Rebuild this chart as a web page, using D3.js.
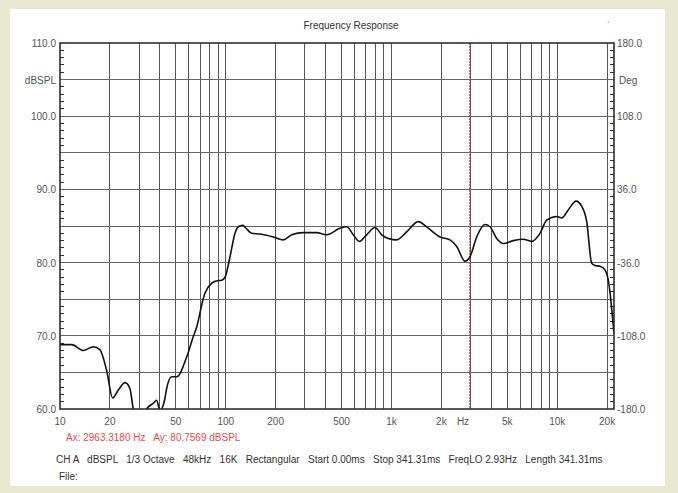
<!DOCTYPE html>
<html>
<head>
<meta charset="utf-8">
<script src="https://cdn.jsdelivr.net/npm/d3@7"></script>
<style>
body { margin: 0; background: #e8e8d0; }
svg text { font-family: "Liberation Sans", Arial, sans-serif; }
</style>
</head>
<body>
<script>
// data
var freqs = [10, 11.8, 13.8, 15.9, 17.4, 19.1, 20.8, 22.5, 24.7, 26.4, 27.7, 29.5, 31.5, 33.3, 36.6, 38.3, 40.1, 43.0, 44.0, 47.2, 50.6, 58.1, 63.7, 66.8, 73.2, 74.9, 82.3, 88.2, 94.5, 99.0, 106.1, 113.7, 119.0, 126.6, 133.8, 143.4, 160.9, 193.6, 222.5, 250.0, 293.8, 353.8, 406.4, 488.9, 536.8, 588.2, 639.2, 708.6, 795.3, 872.9, 956.6, 1075, 1235, 1451, 1667, 1962, 2254, 2474, 2776, 2975, 3266, 3664, 3930, 4313, 4726, 5430, 6240, 7015, 7870, 8636, 9924, 10640, 11660, 12980, 14050, 15060, 16140, 16900, 18110, 19410, 20320, 22000];
var spl = [68.8, 68.8, 68.0, 68.5, 68.1, 65.3, 61.5, 62.6, 63.6, 62.8, 60.0, 58.5, 58.3, 60.0, 60.8, 61.2, 59.8, 61.5, 62.8, 64.4, 64.4, 67.1, 69.9, 71.2, 75.1, 75.8, 77.2, 77.5, 77.6, 78.0, 80.8, 84.0, 84.9, 85.1, 84.6, 84.0, 83.9, 83.5, 83.1, 83.8, 84.1, 84.1, 83.8, 84.7, 84.9, 83.8, 82.9, 83.8, 84.8, 83.8, 83.3, 83.1, 84.2, 85.6, 84.7, 83.5, 83.1, 82.2, 80.2, 80.8, 83.5, 85.2, 84.9, 83.3, 82.6, 83.0, 83.2, 82.9, 84.0, 85.8, 86.3, 86.1, 87.2, 88.4, 87.7, 85.6, 79.9, 79.6, 79.5, 79.0, 77.6, 70.3];

var xTicks = [10, 20, 50, 100, 200, 500, 1000, 2000, 5000, 10000, 20000];
var xTickLabels = ["10", "20", "50", "100", "200", "500", "1k", "2k", "5k", "10k", "20k"];
var xGrid = [20, 30, 40, 50, 60, 70, 80, 90, 100, 200, 300, 400, 500, 600, 700, 800, 900, 1000, 2000, 3000, 4000, 5000, 6000, 7000, 8000, 9000, 10000, 20000];
var yTicks = [60, 70, 80, 90, 100, 110];
var degTicks = [-180, -108, -36, 36, 108, 180];
var cursorFreq = 2963.318;

var title = "Frequency Response";
var cursorText = "Ax: 2963.3180 Hz   Ay: 80.7569 dBSPL";
var infoText = "CH A   dBSPL   1/3 Octave   48kHz   16K   Rectangular   Start 0.00ms   Stop 341.31ms   FreqLO 2.93Hz   Length 341.31ms";

var W = 678, H = 493;
var pLeft = 60, pRight = 614, pTop = 43, pBottom = 409;

var svg = d3.select("body").append("svg")
    .attr("width", W)
    .attr("height", H)
    .style("display", "block");

// white panel
svg.append("rect")
    .attr("x", 10).attr("y", 9)
    .attr("width", 655).attr("height", 477)
    .attr("fill", "#fff");

var x = d3.scaleLog().domain([10, 22000]).range([pLeft, pRight]);
var y = d3.scaleLinear().domain([60, 110]).range([pBottom, pTop]);
var yDeg = d3.scaleLinear().domain([-180, 180]).range([pBottom, pTop]);

// grid
svg.append("g").selectAll("line")
    .data(xGrid).enter().append("line")
    .attr("x1", function(d) { return x(d); })
    .attr("x2", function(d) { return x(d); })
    .attr("y1", pTop).attr("y2", pBottom)
    .attr("stroke", "#555").attr("stroke-width", 1)
    .attr("shape-rendering", "crispEdges");

svg.append("g").selectAll("line")
    .data(d3.range(65, 110, 5)).enter().append("line")
    .attr("x1", pLeft).attr("x2", pRight)
    .attr("y1", function(d) { return y(d); })
    .attr("y2", function(d) { return y(d); })
    .attr("stroke", "#666").attr("stroke-width", 1)
    .attr("shape-rendering", "crispEdges");

// minor ticks every 1 dB on both sides
var minor = d3.range(61, 110, 1).filter(function(d) { return d % 5 != 0; });
svg.append("g").selectAll("line")
    .data(minor).enter().append("line")
    .attr("x1", pLeft).attr("x2", pLeft + 4)
    .attr("y1", function(d) { return y(d); })
    .attr("y2", function(d) { return y(d); })
    .attr("stroke", "#333")
    .attr("shape-rendering", "crispEdges");
svg.append("g").selectAll("line")
    .data(minor).enter().append("line")
    .attr("x1", pRight - 4).attr("x2", pRight)
    .attr("y1", function(d) { return y(d); })
    .attr("y2", function(d) { return y(d); })
    .attr("stroke", "#333")
    .attr("shape-rendering", "crispEdges");

// cursor
svg.append("line")
    .attr("x1", x(cursorFreq)).attr("x2", x(cursorFreq))
    .attr("y1", pTop).attr("y2", pBottom)
    .attr("stroke", "#e04040")
    .attr("stroke-dasharray", "2,1")
    .attr("stroke-width", 1);

// curve
svg.append("clipPath").attr("id", "clip")
    .append("rect")
    .attr("x", pLeft).attr("y", pTop)
    .attr("width", pRight - pLeft).attr("height", pBottom - pTop);

var line = d3.line()
    .x(function(d, i) { return x(freqs[i]); })
    .y(function(d) { return y(d); })
    .curve(d3.curveMonotoneX);

svg.append("path")
    .datum(spl)
    .attr("clip-path", "url(#clip)")
    .attr("d", line)
    .attr("fill", "none")
    .attr("stroke", "#111")
    .attr("stroke-width", 1.6);

// frame
svg.append("rect")
    .attr("x", pLeft).attr("y", pTop)
    .attr("width", pRight - pLeft).attr("height", pBottom - pTop)
    .attr("fill", "none")
    .attr("stroke", "#222")
    .attr("stroke-width", 1.5);

// axis labels
var fs = "10px";
svg.append("g").selectAll("text")
    .data(yTicks).enter().append("text")
    .attr("x", pLeft - 4)
    .attr("y", function(d) { return y(d) + 4; })
    .attr("text-anchor", "end")
    .attr("font-size", fs).attr("fill", "#555")
    .text(function(d) { return d.toFixed(1); });
svg.append("text")
    .attr("x", pLeft - 4).attr("y", y(105) + 4)
    .attr("text-anchor", "end")
    .attr("font-size", fs).attr("fill", "#555")
    .text("dBSPL");

svg.append("g").selectAll("text")
    .data(degTicks).enter().append("text")
    .attr("x", pRight + 3)
    .attr("y", function(d) { return yDeg(d) + 4; })
    .attr("font-size", fs).attr("fill", "#555")
    .text(function(d) { return d.toFixed(1); });
svg.append("text")
    .attr("x", pRight + 5).attr("y", y(105) + 4)
    .attr("font-size", fs).attr("fill", "#555")
    .text("Deg");

svg.append("g").selectAll("text")
    .data(xTicks).enter().append("text")
    .attr("x", function(d) { return x(d); })
    .attr("y", pBottom + 16)
    .attr("text-anchor", "middle")
    .attr("font-size", fs).attr("fill", "#555")
    .text(function(d, i) { return xTickLabels[i]; });
svg.append("text")
    .attr("x", x(2700)).attr("y", pBottom + 16)
    .attr("text-anchor", "middle")
    .attr("font-size", fs).attr("fill", "#555")
    .text("Hz");

// title
svg.append("text")
    .attr("x", 351).attr("y", 29)
    .attr("text-anchor", "middle")
    .attr("font-size", fs).attr("fill", "#333")
    .text(title);
svg.append("text")
    .attr("x", 607).attr("y", 23)
    .attr("font-size", fs).attr("fill", "#999")
    .text(".");

// cursor readout and info lines
svg.append("text")
    .attr("x", 66).attr("y", 441)
    .attr("font-size", fs).attr("fill", "#f04848")
    .style("white-space", "pre")
    .text(cursorText);
svg.append("text")
    .attr("x", 56).attr("y", 463)
    .attr("font-size", fs).attr("fill", "#333")
    .style("white-space", "pre")
    .text(infoText);
svg.append("text")
    .attr("x", 59).attr("y", 480)
    .attr("font-size", fs).attr("fill", "#333")
    .text("File:");
</script>
</body>
</html>
